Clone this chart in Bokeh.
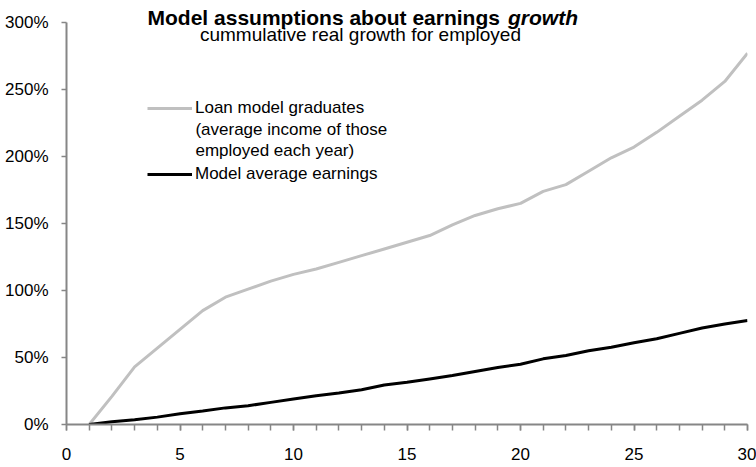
from bokeh.plotting import figure
from bokeh.models import (Legend, LegendItem, Label, SingleIntervalTicker, FixedTicker,
                          PrintfTickFormatter, Range1d)
from bokeh.embed import file_html
from bokeh.resources import INLINE

# ---- data ----
years = list(range(1, 31))
loan_graduates = [0, 21, 43, 57, 71, 85, 95, 101, 107, 112,
                  116, 121, 126, 131, 136, 141, 149, 156, 161, 165,
                  174, 179, 189, 199, 207, 218, 230, 242, 256, 277]
model_average = [0, 2, 3.5, 5.5, 8, 10, 12.4, 14, 16.5, 19,
                 21.5, 23.5, 26, 29.5, 31.5, 34, 36.5, 39.5, 42.5, 45,
                 49, 51.5, 55, 57.7, 61, 64, 68, 72, 75, 77.6]
y_ticks = [0, 50, 100, 150, 200, 250, 300]

title_main = "Model assumptions about earnings"
title_em = "growth"
subtitle = "cummulative real growth for employed"
label_loan = ["Loan model graduates", "(average income of those", "employed each year)"]
label_model = "Model average earnings"

FONT = "Liberation Sans"
AXIS_COL = "#868686"

p = figure(width=756, height=467, output_backend="svg", toolbar_location=None,
           x_range=Range1d(0, 30), y_range=Range1d(0, 316.4),
           min_border_left=66, min_border_right=9, min_border_top=0, min_border_bottom=43)
p.outline_line_color = None
p.xgrid.visible = False
p.ygrid.visible = False
p.background_fill_color = "white"
p.border_fill_color = "white"

r1 = p.line(years, loan_graduates, line_color="#c0c0c0", line_width=3)
r2 = p.line(years, model_average, line_color="#000000", line_width=3)

xa = p.xaxis[0]
xa.ticker = SingleIntervalTicker(interval=5, num_minor_ticks=5)
ya = p.yaxis[0]
ya.ticker = FixedTicker(ticks=y_ticks)
ya.formatter = PrintfTickFormatter(format="%d%%")
ya.bounds = (0, 300)
for ax in (xa, ya):
    ax.axis_line_color = AXIS_COL
    ax.axis_line_width = 2
    ax.major_tick_line_color = AXIS_COL
    ax.minor_tick_line_color = AXIS_COL
    ax.major_tick_line_width = 1.5
    ax.minor_tick_line_width = 1.5
    ax.major_tick_in = 0
    ax.minor_tick_in = 0
    ax.major_label_text_font = FONT
    ax.major_label_text_font_size = "17px"
    ax.major_label_text_color = "#000000"
xa.major_tick_out = 6
xa.minor_tick_out = 6
xa.major_label_standoff = 17
ya.major_tick_out = 5
ya.minor_tick_out = 0
ya.major_label_standoff = 13

legend = Legend(items=[LegendItem(label=label_loan[0], renderers=[r1]),
                       LegendItem(label=label_model, renderers=[r2])],
                location=(81, 240), spacing=46, padding=0, margin=0,
                glyph_width=45, glyph_height=20, label_height=20, label_standoff=3,
                border_line_color=None, background_fill_alpha=0,
                label_text_font=FONT, label_text_font_size="17px",
                label_text_color="#000000")
p.add_layout(legend)

# continuation lines of the first legend label
for txt, yv in ((label_loan[1], 220.1), (label_loan[2], 204.4)):
    p.add_layout(Label(x=5.68, y=yv, text=txt, text_font=FONT, text_font_size="17px",
                       text_color="#000000", text_baseline="alphabetic"))

# title
p.add_layout(Label(x=3.57, y=303.9, text=title_main, text_font=FONT, text_font_size="21px",
                   text_font_style="bold", text_color="#000000", text_baseline="alphabetic"))
p.add_layout(Label(x=19.45, y=303.9, text=title_em, text_font=FONT, text_font_size="21px",
                   text_font_style="bold italic", text_color="#000000", text_baseline="alphabetic"))
p.add_layout(Label(x=12.95, y=291.0, text=subtitle, text_font=FONT, text_font_size="19px",
                   text_color="#000000", text_align="center", text_baseline="alphabetic"))

open("out.html", "w").write(file_html(p, INLINE))
